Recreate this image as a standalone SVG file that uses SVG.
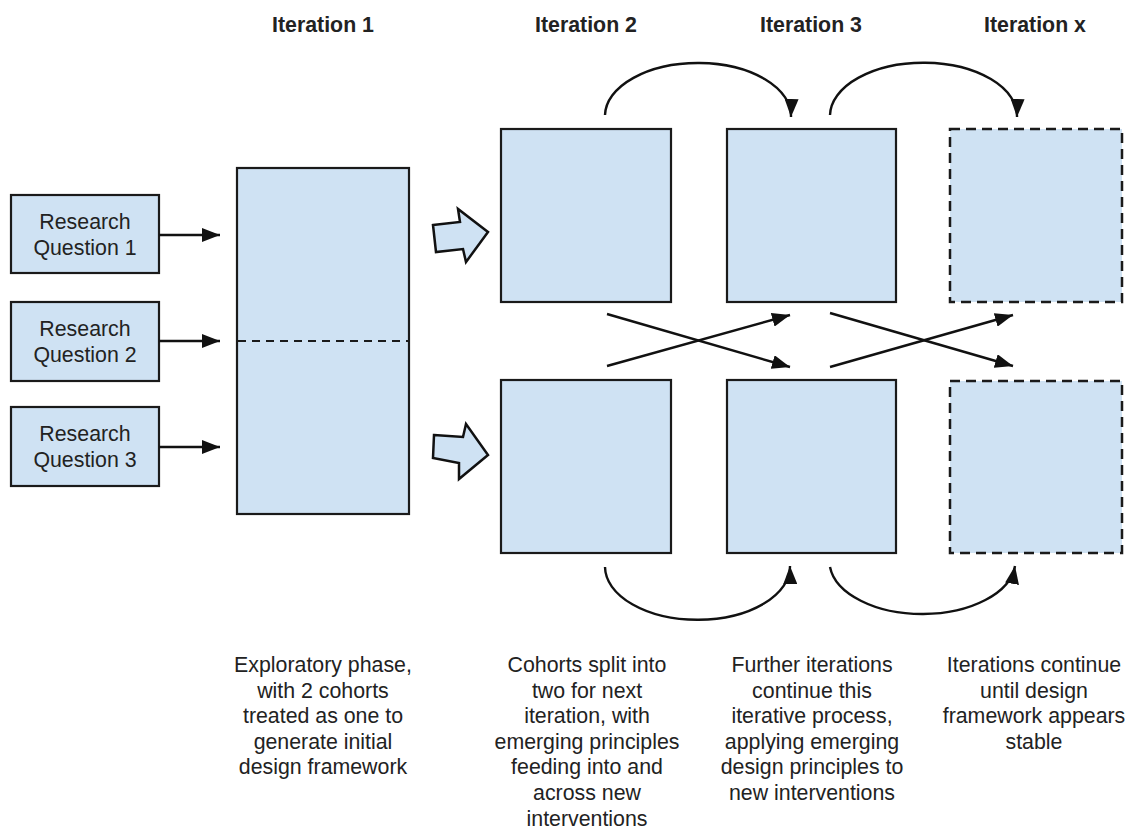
<svg xmlns="http://www.w3.org/2000/svg" width="1134" height="830" viewBox="0 0 1134 830">
  <defs>
    <style>
      .box { fill: #cfe2f3; stroke: #1a1a1a; stroke-width: 2.2; }
      .dashbox { fill: #cfe2f3; stroke: #1a1a1a; stroke-width: 2.5; stroke-dasharray: 10 6; }
      .divider { fill: none; stroke: #1a1a1a; stroke-width: 2.2; stroke-dasharray: 8 6; }
      .conn { fill: none; stroke: #111; stroke-width: 2.4; marker-end: url(#head); }
      .block { fill: #cfe2f3; stroke: #111; stroke-width: 2.5; stroke-linejoin: miter; }
      text { font-family: "Liberation Sans", Arial, sans-serif; fill: #222; }
      .head { font-size: 21.33px; font-weight: bold; text-anchor: middle; }
      .label { font-size: 21.33px; text-anchor: middle; }
    </style>
    <marker id="head" viewBox="0 0 18 14" refX="18" refY="7" markerWidth="18" markerHeight="14" markerUnits="userSpaceOnUse" orient="auto">
      <path d="M0,0 L18,7 L0,14 Z" fill="#111"/>
    </marker>
  </defs>

  <rect width="1134" height="830" fill="#ffffff"/>

  <!-- column headings -->
  <g id="headings">
    <text class="head" x="323" y="32">Iteration 1</text>
    <text class="head" x="586" y="32">Iteration 2</text>
    <text class="head" x="811" y="32">Iteration 3</text>
    <text class="head" x="1035" y="32">Iteration x</text>
  </g>

  <!-- research questions -->
  <g id="rq1">
    <rect class="box" x="11" y="195" width="148" height="78"/>
    <text class="label" x="85" y="229">Research</text>
    <text class="label" x="85" y="255">Question 1</text>
  </g>
  <g id="rq2">
    <rect class="box" x="11" y="302" width="148" height="79"/>
    <text class="label" x="85" y="336">Research</text>
    <text class="label" x="85" y="362">Question 2</text>
  </g>
  <g id="rq3">
    <rect class="box" x="11" y="407" width="148" height="79"/>
    <text class="label" x="85" y="441">Research</text>
    <text class="label" x="85" y="467">Question 3</text>
  </g>

  <!-- iteration 1: both cohorts in one block -->
  <g id="iteration1">
    <rect class="box" x="237" y="168" width="172" height="346"/>
    <line class="divider" x1="238" y1="341" x2="408" y2="341"/>
  </g>

  <!-- iteration 2 -->
  <g id="it2-top"><rect class="box" x="501" y="129" width="170" height="173"/></g>
  <g id="it2-bottom"><rect class="box" x="501" y="380" width="170" height="173"/></g>

  <!-- iteration 3 -->
  <g id="it3-top"><rect class="box" x="727" y="129" width="169" height="173"/></g>
  <g id="it3-bottom"><rect class="box" x="727" y="380" width="169" height="173"/></g>

  <!-- iteration x (open-ended) -->
  <g id="itx-top"><rect class="dashbox" x="950" y="129" width="172" height="173"/></g>
  <g id="itx-bottom"><rect class="dashbox" x="950" y="381" width="172" height="172"/></g>

  <!-- connectors -->
  <g id="connectors">
    <line class="conn" x1="159" y1="235" x2="220" y2="235"/>
    <line class="conn" x1="159" y1="341" x2="220" y2="341"/>
    <line class="conn" x1="159" y1="447" x2="220" y2="447"/>

    <polygon class="block" points="433,225 460,222 458,209 488,232 466,262 463,249 436,252"/>
    <polygon class="block" points="434,435 463,437 466,424 488,455 459,479 459,463 433,458"/>

    <path class="conn" d="M605,115 A93,53 0 0 1 791,117"/>
    <path class="conn" d="M830,115 A93,53 0 0 1 1017,117"/>
    <path class="conn" d="M605,567 A92,53 0 0 0 790,566"/>
    <path class="conn" d="M830,567 A93,53 0 0 0 1015,566"/>

    <line class="conn" x1="607" y1="314" x2="790" y2="367"/>
    <line class="conn" x1="607" y1="366" x2="790" y2="315"/>
    <line class="conn" x1="830" y1="313" x2="1013" y2="366"/>
    <line class="conn" x1="830" y1="367" x2="1013" y2="315"/>
  </g>

  <!-- descriptions -->
  <g id="desc1">
    <text class="label" x="323" y="672">Exploratory phase,</text>
    <text class="label" x="323" y="697.6">with 2 cohorts</text>
    <text class="label" x="323" y="723.2">treated as one to</text>
    <text class="label" x="323" y="748.8">generate initial</text>
    <text class="label" x="323" y="774.4">design framework</text>
  </g>
  <g id="desc2">
    <text class="label" x="587" y="672">Cohorts split into</text>
    <text class="label" x="587" y="697.6">two for next</text>
    <text class="label" x="587" y="723.2">iteration, with</text>
    <text class="label" x="587" y="748.8">emerging principles</text>
    <text class="label" x="587" y="774.4">feeding into and</text>
    <text class="label" x="587" y="800">across new</text>
    <text class="label" x="587" y="825.6">interventions</text>
  </g>
  <g id="desc3">
    <text class="label" x="812" y="672">Further iterations</text>
    <text class="label" x="812" y="697.6">continue this</text>
    <text class="label" x="812" y="723.2">iterative process,</text>
    <text class="label" x="812" y="748.8">applying emerging</text>
    <text class="label" x="812" y="774.4">design principles to</text>
    <text class="label" x="812" y="800">new interventions</text>
  </g>
  <g id="desc4">
    <text class="label" x="1034" y="672">Iterations continue</text>
    <text class="label" x="1034" y="697.6">until design</text>
    <text class="label" x="1034" y="723.2">framework appears</text>
    <text class="label" x="1034" y="748.8">stable</text>
  </g>
</svg>
